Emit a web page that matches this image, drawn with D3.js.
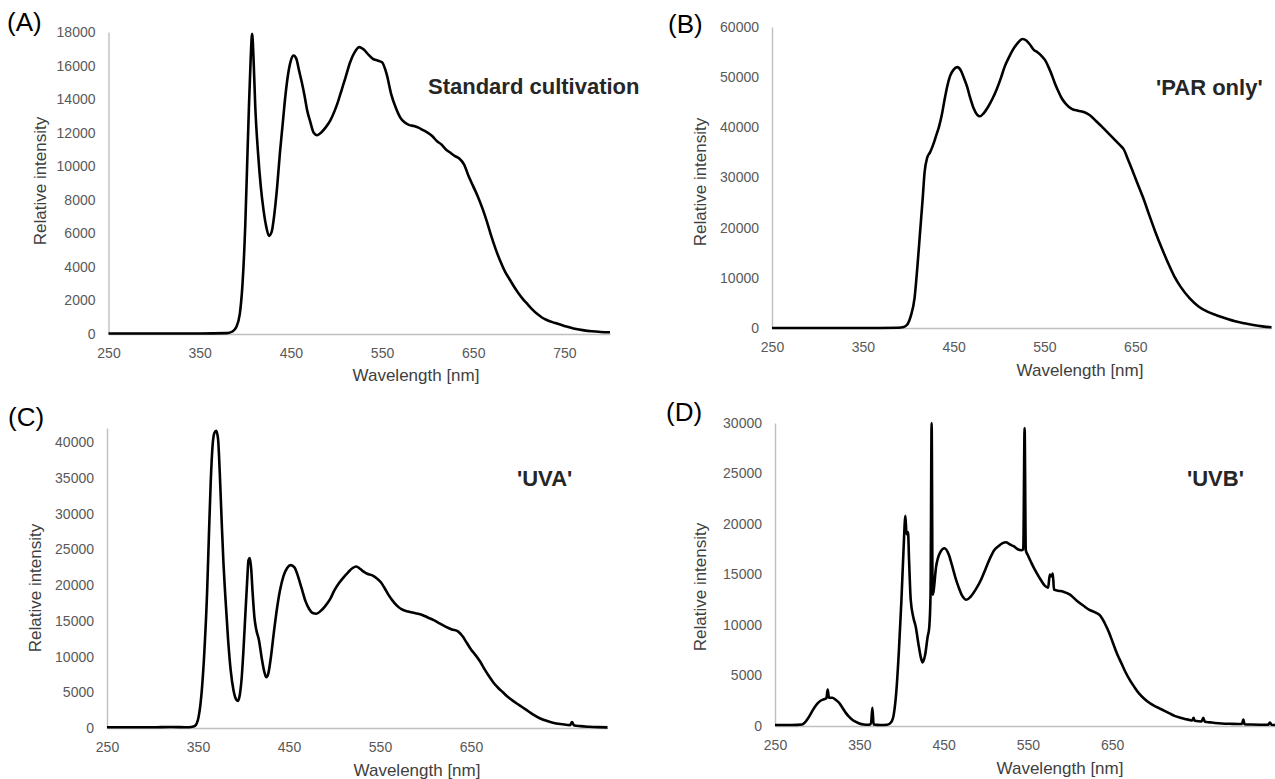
<!DOCTYPE html>
<html>
<head>
<meta charset="utf-8">
<script src="https://cdn.jsdelivr.net/npm/d3@7"></script>
<style>
  body { margin: 0; background: #fff; }
  svg { display: block; font-family: Arial, "Liberation Sans", sans-serif; }
</style>
</head>
<body>
<svg width="1275" height="779"></svg>
<script>
// (A) Standard cultivation
const nmA = [250,300,350,380,386,390,394,397,400,402,404,406,407.5,409,411,414,417,420,423,426,429,432,435,438,441,444,447,450,453,456,459,462,465,468,471,475,479,483,488,493,498,502,506,510,515,520,525,530,535,540,545,550,555,560,565,570,575,580,585,590,595,600,605,610,615,620,625,630,635,640,645,650,655,660,665,670,675,680,685,690,695,700,705,710,715,720,725,730,740,750,760,770,780,790,800];
const intA = [30,30,30,50,150,400,1200,3000,6500,10000,13500,16500,17900,16500,13500,10800,8800,7400,6400,5850,6100,7200,8800,10800,12500,14200,15500,16300,16600,16400,15700,15000,14200,13300,12700,12000,11850,12000,12300,12700,13300,13900,14600,15300,16200,16800,17100,16950,16650,16400,16300,16200,15500,14300,13500,12900,12600,12450,12400,12300,12150,12000,11800,11500,11300,11000,10800,10600,10450,10100,9400,8800,8200,7500,6700,5800,5000,4300,3700,3250,2800,2400,2050,1750,1450,1200,1000,850,650,480,330,230,160,120,100];

// (B) 'PAR only'
const nmB = [250,300,350,389,395,399,403,407,410,413,416,418,421,424,427,431,434,437,440,443,446,450,454,458,461,465,468,472,476,479,483,488,493,497,502,506,511,515,520,526,530,534,538,542,547,551,555,558,561,565,569,574,580,587,594,600,607,614,621,628,634,637,642,646,652,659,665,672,679,686,693,700,710,720,730,740,750,760,770,780,790,800];
const intB = [0,0,0,50,200,700,2500,6000,12000,19000,26000,31000,34000,35000,36300,38500,40200,42500,45500,48200,50200,51500,52000,51300,50000,48000,46000,43800,42500,42200,42800,44100,45800,47400,49800,52000,54000,55400,56700,57600,57300,56500,55500,55000,54200,53300,51800,50500,49000,47300,45800,44600,43700,43300,43000,42400,41200,40000,38700,37400,36300,35700,33600,31800,29000,25800,22700,19200,16000,13000,10300,8200,5900,4250,3200,2500,1900,1350,950,600,330,150];

// (C) 'UVA'
const nmC = [250,300,320,340,345,348,351,354,357,360,362,364,366,368,370,372,374,376,378,380,383,386,389,392,394,396,398,400,402,404,405.5,407,408.5,410,412,414,417,420,423,425,427,430,433,436,440,444,448,452,456,460,464,468,472,476,480,485,490,495,500,505,510,515,520,524,528,532,536,541,546,551,555,559,564,568,574,581,588,595,602,609,616,622,629,636,641,645,650,655,660,665,670,675,680,685,690,695,703,710,718,725,733,740,748,756,759,761,763,770,780,790,800];
const intC = [100,100,150,100,200,500,1800,5000,10700,19000,27000,34500,39500,41300,41600,40500,35500,29000,23000,18500,12500,8000,5300,4000,3800,4700,7000,11000,15800,20500,23500,23800,22200,19000,15500,13800,12300,9800,7800,7100,7500,9800,13000,16000,19200,21300,22400,22800,22500,21200,19500,17800,16700,16100,16000,16400,17100,18000,19300,20300,21100,21800,22400,22600,22300,21900,21600,21400,21000,20400,19600,18700,17800,17200,16600,16300,16100,15900,15500,15100,14600,14200,13800,13500,12800,12000,11000,10200,9300,8200,7200,6300,5600,5000,4400,3900,3200,2600,1900,1400,1000,750,550,420,400,850,400,260,170,120,90];

// (D) 'UVB'
const nmD = [250,270,282,287,291,295,300,304,308,311,312.5,314,318,322,326,330,334,338,342,346,350,355,362,364,365.5,367,375,383,388,391,394,397,400,402.5,404.7,406,407.8,409,411,414,417,420,423,425,428,431,433,434.5,435.8,437,438,441,446,451,456,460,464,468,472,477,482,488,494,500,505,510,515,520,524,528,533,538,542,544.5,546.1,547.5,550,555,560,565,570,574,576,578,579.5,581,586,592,600,608,616,623,631,636,641,646,651,656,661,666,671,676,682,688,694,700,706,712,718,724,730,736,742,745,746.5,748,756,758,760,766,772,780,790,800,804,805.5,807,815,825,835,837,839,845];
const intD = [100,100,150,500,1000,1600,2200,2500,2650,2750,3600,2800,2800,2600,2300,1800,1300,900,600,400,250,150,120,300,1800,150,100,120,400,1200,3500,7500,12500,17500,20800,19000,19200,16500,12500,10800,9800,8200,6800,6300,7000,8800,9800,13000,30000,13000,13300,15700,17200,17600,17000,15900,14700,13700,12900,12500,12800,13500,14400,15600,16600,17400,17800,18100,18200,18000,17800,17500,17400,17500,29500,17400,16900,16000,15200,14500,13900,13700,15000,14800,15100,13500,13400,13300,13000,12400,11900,11500,11200,10900,10200,9300,8200,7100,6200,5300,4550,3900,3200,2700,2300,2000,1750,1500,1250,1000,850,700,600,550,800,520,450,800,420,360,300,250,220,200,200,650,180,150,130,120,350,120,100];

const xTicks4 = [250,350,450,550,650];
const xTicks5 = [250,350,450,550,650,750];
const yTicksA = d3.range(0, 18001, 2000);
const yTicksB = d3.range(0, 60001, 10000);
const yTicksC = d3.range(0, 40001, 5000);
const yTicksD = d3.range(0, 30001, 5000);

const svg = d3.select("svg");

function drawPanel(p) {
	const x = d3.scaleLinear().domain(p.xDomain).range(p.xRange);
	const y = d3.scaleLinear().domain(p.yDomain).range(p.yRange);
	const g = svg.append("g");

	const xAxis = g.append("g")
		.attr("transform", `translate(0,${p.yRange[0]})`)
		.call(d3.axisBottom(x).tickValues(p.xTicks).tickFormat(d3.format("d")).tickSize(0).tickSizeOuter(0).tickPadding(14));
	const yAxis = g.append("g")
		.attr("transform", `translate(${p.xRange[0]},0)`)
		.call(d3.axisLeft(y).tickValues(p.yTicks).tickFormat(d3.format("d")).tickSize(0).tickSizeOuter(0).tickPadding(13));

	[xAxis, yAxis].forEach(a => {
		a.select(".domain").attr("stroke", "#bfbfbf").attr("stroke-width", 1.4);
		a.selectAll("text").attr("fill", "#595959").attr("font-size", 14)
			.attr("font-family", "Arial, 'Liberation Sans', sans-serif");
	});

	const line = d3.line()
		.x((d, i) => x(p.nm[i]))
		.y(d => y(Math.min(d, p.yDomain[1])))
		.curve(d3.curveMonotoneX);

	g.append("path")
		.datum(p.vals)
		.attr("fill", "none")
		.attr("stroke", "#000")
		.attr("stroke-width", 2.6)
		.attr("stroke-linejoin", "round")
		.attr("d", line);

	// axis titles
	g.append("text")
		.attr("x", p.xTitle[0]).attr("y", p.xTitle[1])
		.attr("text-anchor", "middle").attr("dominant-baseline", "central")
		.attr("font-size", 17).attr("fill", "#404040")
		.text("Wavelength [nm]");
	g.append("text")
		.attr("transform", `translate(${p.yTitle[0]},${p.yTitle[1]}) rotate(-90)`)
		.attr("text-anchor", "middle").attr("dominant-baseline", "central")
		.attr("font-size", 17).attr("fill", "#404040")
		.text("Relative intensity");

	// panel letter and condition label
	g.append("text")
		.attr("x", p.letter[0]).attr("y", p.letter[1])
		.attr("dominant-baseline", "central")
		.attr("font-size", 26).attr("fill", "#000")
		.text(p.letterText);
	g.append("text")
		.attr("x", p.label[0]).attr("y", p.label[1])
		.attr("dominant-baseline", "central")
		.attr("font-size", 22).attr("font-weight", "bold").attr("fill", "#262626")
		.text(p.labelText);
}

drawPanel({
	nm: nmA, vals: intA, xTicks: xTicks5, yTicks: yTicksA,
	xDomain: [250, 800], xRange: [108.5, 610],
	yDomain: [0, 18000], yRange: [334, 32],
	xTitle: [416, 375], yTitle: [40, 181],
	letter: [7, 22], letterText: "(A)",
	label: [428, 86], labelText: "Standard cultivation"
});

drawPanel({
	nm: nmB, vals: intB, xTicks: xTicks4, yTicks: yTicksB,
	xDomain: [250, 800], xRange: [772, 1271.5],
	yDomain: [0, 60000], yRange: [328, 27],
	xTitle: [1080, 370], yTitle: [700, 182],
	letter: [668, 24], letterText: "(B)",
	label: [1156, 87], labelText: "'PAR only'"
});

drawPanel({
	nm: nmC, vals: intC, xTicks: xTicks4, yTicks: yTicksC,
	xDomain: [250, 800], xRange: [107, 607.5],
	yDomain: [0, 42000], yRange: [728, 428],
	xTitle: [417, 770], yTitle: [35, 588],
	letter: [8, 417], letterText: "(C)",
	label: [517, 478], labelText: "'UVA'"
});

drawPanel({
	nm: nmD, vals: intD, xTicks: xTicks4, yTicks: yTicksD,
	xDomain: [250, 850], xRange: [775, 1280.8],
	yDomain: [0, 30000], yRange: [726, 423],
	xTitle: [1060, 768], yTitle: [700, 587],
	letter: [666, 412], letterText: "(D)",
	label: [1187, 478], labelText: "'UVB'"
});
</script>
</body>
</html>
